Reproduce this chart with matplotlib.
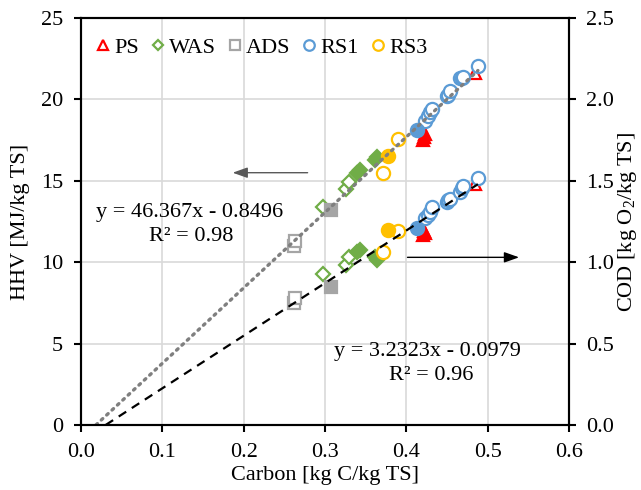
import matplotlib
matplotlib.use("Agg")
import matplotlib.pyplot as plt
from matplotlib.lines import Line2D
import numpy as np

plt.rcParams['font.family'] = ['Liberation Serif', 'DejaVu Serif']
plt.rcParams['mathtext.fontset'] = 'custom'
plt.rcParams['mathtext.rm'] = 'Liberation Serif'
plt.rcParams['mathtext.it'] = 'Liberation Serif:italic'

# ---- data: carbon [kg C/kg TS], HHV [MJ/kg TS], COD [kg O2/kg TS] ----
ps_open_c = [0.484]
ps_open_hhv = [21.6]
ps_open_cod = [1.48]
ps_fill_c = [0.421, 0.422, 0.423]
ps_fill_hhv = [17.5, 17.7, 17.85]
ps_fill_cod = [1.17, 1.19, 1.18]

was_open_c = [0.297, 0.326, 0.330]
was_open_hhv = [13.4, 14.5, 14.9]
was_open_cod = [0.925, 0.985, 1.03]
was_fill_c = [0.339, 0.343, 0.361, 0.364]
was_fill_hhv = [15.5, 15.65, 16.25, 16.45]
was_fill_cod = [1.065, 1.077, 1.03, 1.015]

ads_open_c = [0.262, 0.263]
ads_open_hhv = [11.0, 11.3]
ads_open_cod = [0.75, 0.78]
ads_fill_c = [0.307]
ads_fill_hhv = [13.2]
ads_fill_cod = [0.85]

rs1_open_c = [0.423, 0.427, 0.429, 0.432, 0.450, 0.451, 0.454, 0.466, 0.469, 0.470, 0.488]
rs1_open_hhv = [18.7, 19.0, 19.2, 19.4, 20.2, 20.3, 20.5, 21.3, 21.3, 21.4, 22.05]
rs1_open_cod = [1.27, 1.29, 1.31, 1.34, 1.37, 1.38, 1.39, 1.43, 1.455, 1.47, 1.52]
rs1_fill_c = [0.413]
rs1_fill_hhv = [18.1]
rs1_fill_cod = [1.21]

rs3_open_c = [0.371, 0.390]
rs3_open_hhv = [15.5, 17.6]
rs3_open_cod = [1.065, 1.19]
rs3_fill_c = [0.378]
rs3_fill_hhv = [16.55]
rs3_fill_cod = [1.20]

# linear fits
hhv_slope, hhv_icpt, hhv_r2 = 46.367, -0.8496, 0.98
cod_slope, cod_icpt, cod_r2 = 3.2323, -0.0979, 0.96

x_ticks = [0.0, 0.1, 0.2, 0.3, 0.4, 0.5, 0.6]
hhv_ticks = [0, 5, 10, 15, 20, 25]
cod_ticks = [0.0, 0.5, 1.0, 1.5, 2.0, 2.5]

RED, GREEN, GREY, BLUE, GOLD = '#FF0000', '#70AD47', '#A5A5A5', '#5B9BD5', '#FFC000'
FS = 16

fig = plt.figure(figsize=(6.41, 4.90), dpi=100)
ax = fig.add_axes([0.1264, 0.1327, 0.7613, 0.8304])
ax2 = ax.twinx()

series = [
    (ps_open_c, ps_open_hhv, ps_open_cod, ps_fill_c, ps_fill_hhv, ps_fill_cod, '^', RED, 'PS'),
    (was_open_c, was_open_hhv, was_open_cod, was_fill_c, was_fill_hhv, was_fill_cod, 'D', GREEN, 'WAS'),
    (ads_open_c, ads_open_hhv, ads_open_cod, ads_fill_c, ads_fill_hhv, ads_fill_cod, 's', GREY, 'ADS'),
    (rs1_open_c, rs1_open_hhv, rs1_open_cod, rs1_fill_c, rs1_fill_hhv, rs1_fill_cod, 'o', BLUE, 'RS1'),
    (rs3_open_c, rs3_open_hhv, rs3_open_cod, rs3_fill_c, rs3_fill_hhv, rs3_fill_cod, 'o', GOLD, 'RS3'),
]

def msize(m):
    return {'^': 9, 'D': 7, 's': 8.5, 'o': 9.5}[m]

handles = []
for oc, oh, ocod, fc, fh, fcod, m, col, lab in series:
    ms = msize(m)
    ax.plot(oc, oh, ls='none', marker=m, ms=ms, mfc='white', mec=col, mew=1.6, zorder=3)
    ax.plot(fc, fh, ls='none', marker=m, ms=ms, mfc=col, mec=col, mew=1.6, zorder=3)
    ax2.plot(oc, ocod, ls='none', marker=m, ms=ms, mfc='white', mec=col, mew=1.6, zorder=3)
    ax2.plot(fc, fcod, ls='none', marker=m, ms=ms, mfc=col, mec=col, mew=1.6, zorder=3)
    handles.append(Line2D([], [], ls='none', marker=m, ms=ms * 0.8, mfc='none', mec=col,
                          mew=1.6, label=lab))

# trend lines, extended back to the x-intercept
x_end = max(rs1_open_c)
xh = np.array([-hhv_icpt / hhv_slope, x_end])
ax.plot(xh, hhv_slope * xh + hhv_icpt, ls=(0, (0.6, 1.6)), color='#7F7F7F', lw=2.4,
        dash_capstyle='round', zorder=4)
xc = np.array([-cod_icpt / cod_slope, x_end])
ax2.plot(xc, cod_slope * xc + cod_icpt, ls=(0, (4, 3)), color='black', lw=1.6, zorder=4)

ax.set_xlim(0, 0.6)
ax.set_ylim(0, 25)
ax2.set_ylim(0, 2.5)
ax.set_xticks(x_ticks)
ax.set_xticklabels([f'{v:.1f}' for v in x_ticks])
ax.set_yticks(hhv_ticks)
ax.set_yticklabels([str(v) for v in hhv_ticks])
ax2.set_yticks(cod_ticks)
ax2.set_yticklabels([f'{v:.1f}' for v in cod_ticks])

ax.grid(True, color='#D9D9D9', lw=1.2, zorder=0)
ax.set_axisbelow(True)
for a in (ax, ax2):
    for s in a.spines.values():
        s.set_color('black')
        s.set_linewidth(1.5)
    a.tick_params(direction='out', length=5, width=1.5, labelsize=FS, colors='black')
ax.tick_params(axis='x', pad=8)
ax.tick_params(axis='y', pad=8)
ax2.tick_params(axis='y', pad=7)

ax.set_xlabel('Carbon [kg C/kg TS]', fontsize=FS, labelpad=3)
ax.set_ylabel('HHV [MJ/kg TS]', fontsize=FS, labelpad=8)
ax2.set_ylabel(r'COD [kg O$_\mathrm{2}$/kg TS]', fontsize=FS, labelpad=2)

# equations
ax.text(0.134, 13.05, f'y = {hhv_slope}x - {abs(hhv_icpt)}', fontsize=FS, ha='center', va='center')
ax.text(0.136, 11.6, f'R² = {hhv_r2:.2f}', fontsize=FS, ha='center', va='center')
ax2.text(0.426, 0.453, f'y = {cod_slope}x - {abs(cod_icpt)}', fontsize=FS, ha='center', va='center')
ax2.text(0.43, 0.306, f'R² = {cod_r2:.2f}', fontsize=FS, ha='center', va='center')

# arrows pointing to the matching axis
ax.annotate('', xy=(0.183, 15.5), xytext=(0.282, 15.5),
            arrowprops=dict(arrowstyle='-|>,head_length=0.9,head_width=0.32', color='#595959', lw=1))
ax.annotate('', xy=(0.542, 10.3), xytext=(0.398, 10.3),
            arrowprops=dict(arrowstyle='-|>,head_length=0.9,head_width=0.32', color='black', lw=1))

ax2.legend(handles=handles, loc='upper left', ncol=5, frameon=False, fontsize=FS,
           handlelength=0.6, handletextpad=0.2, columnspacing=0.55,
           bbox_to_anchor=(0.0, 0.99), borderaxespad=0.3)

fig.savefig('out.png', dpi=100)
